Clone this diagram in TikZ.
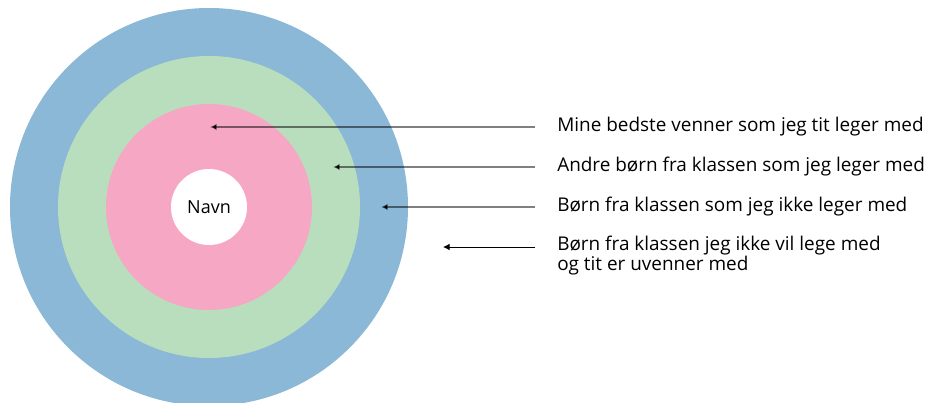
\documentclass[tikz,border=0pt]{standalone}
\usepackage{fontspec}
\setmainfont{Open Sans}
\usetikzlibrary{arrows.meta,positioning}

\definecolor{ringblue}{HTML}{8BB8D7}
\definecolor{ringgreen}{HTML}{B9DEBD}
\definecolor{ringpink}{HTML}{F5A7C4}

\tikzset{
  ring/.style={circle, inner sep=0pt, minimum size=#1},
  lbl/.style={anchor=west, inner sep=0pt, align=left, font=\fontsize{14.2}{15}\selectfont},
  pointer/.style={-{Latex[length=5pt,width=5pt]}, line width=1.2pt, shorten <=16.5pt},
}

\begin{document}
\begin{tikzpicture}[x=0.75pt, y=-0.75pt]
 \useasboundingbox (0,0) rectangle (925,403);
 % rings
 \node[ring=298.5pt, fill=ringblue] (outer) at (209,207) {};
 \node[ring=226.5pt, fill=ringgreen] (middle) at (209,207) {};
 \node[ring=154.5pt, fill=ringpink] (inner) at (209,207) {};
 \node[ring=57pt, fill=white, font=\fontsize{13.5}{15}\selectfont] (navn) at (209,207) {Navn};

 % labels
 \node[lbl] (best) at (557,127) {Mine bedste venner som jeg tit leger med};
 \node[lbl] (other) at (557,167) {Andre børn fra klassen som jeg leger med};
 \node[lbl] (notplay) at (557,207) {Børn fra klassen som jeg ikke leger med};
 \node[lbl, anchor=north west] (enemy) at (557,236) {Børn fra klassen jeg ikke vil lege med\\og tit er uvenner med};

 \coordinate (t1) at (210,127);
 \coordinate (t2) at (333,167);
 \coordinate (t3) at (381,207);
 \coordinate (t4) at (443,247);

 \draw[pointer, draw opacity=0.5] (best.west) -- (t1);
 \draw[pointer, draw opacity=0.5] (other.west) -- (t2);
 \draw[pointer, draw opacity=0.5] (notplay.west) -- (t3);
 \draw[pointer, line width=0.65pt] (enemy.west |- t4) -- (t4);
\end{tikzpicture}
\end{document}
